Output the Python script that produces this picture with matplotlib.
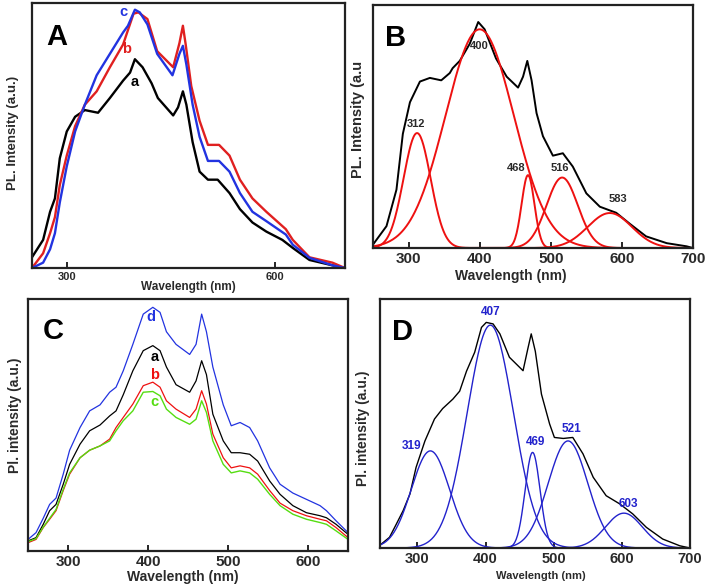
import numpy as np
import matplotlib
matplotlib.use("Agg")
import matplotlib.pyplot as plt

plt.rcParams["font.family"] = ["Liberation Sans", "DejaVu Sans"]
plt.rcParams["font.weight"] = "bold"

TXT = "#2a2a2a"

# ---- panel A: PL spectra a, b, c ----
a_wl_black = [250, 266, 276, 283, 290, 300, 312, 326, 345, 362, 381, 391, 398, 409, 422, 431, 453,
              460, 467, 472, 481, 491, 503, 517, 534, 549, 567, 587, 610, 625, 649, 682, 700]
a_black = [0.04, 0.105, 0.21, 0.26, 0.41, 0.51, 0.565, 0.59, 0.58, 0.635, 0.70, 0.73, 0.78, 0.75, 0.69,
           0.635, 0.57, 0.60, 0.66, 0.61, 0.47, 0.36, 0.33, 0.33, 0.28, 0.22, 0.17, 0.136, 0.105, 0.075,
           0.03, 0.01, 0.0]
a_wl_red = [250, 266, 276, 283, 290, 300, 312, 326, 343, 362, 381, 396, 403, 416, 430, 453, 462, 467,
            471, 479, 491, 503, 519, 534, 549, 567, 587, 615, 625, 649, 682, 700]
a_red = [0.0, 0.055, 0.13, 0.19, 0.31, 0.42, 0.53, 0.61, 0.66, 0.75, 0.835, 0.95, 0.955, 0.93, 0.81,
         0.75, 0.84, 0.905, 0.835, 0.68, 0.55, 0.46, 0.46, 0.42, 0.33, 0.26, 0.21, 0.145, 0.105, 0.04,
         0.02, 0.0]
a_wl_blue = [250, 266, 276, 283, 290, 300, 312, 326, 343, 362, 381, 388, 398, 405, 416, 430, 452, 462,
             467, 472, 481, 491, 503, 519, 534, 549, 567, 587, 615, 625, 649, 682, 700]
a_blue = [0.0, 0.02, 0.07, 0.13, 0.245, 0.38, 0.51, 0.61, 0.72, 0.80, 0.88, 0.905, 0.965, 0.955, 0.91,
          0.80, 0.72, 0.80, 0.83, 0.76, 0.61, 0.49, 0.40, 0.40, 0.36, 0.28, 0.21, 0.175, 0.125, 0.087,
          0.038, 0.01, 0.0]

# ---- panel B: spectrum and gaussian components ----
b_wl = [250, 269, 283, 292, 302, 316, 330, 346, 358, 362, 372, 386, 398, 407, 423, 438, 454, 461, 467,
        473, 480, 489, 503, 517, 531, 550, 569, 592, 611, 634, 663, 691, 700]
b_black = [0.014, 0.09, 0.24, 0.47, 0.60, 0.685, 0.70, 0.69, 0.72, 0.74, 0.77, 0.84, 0.93, 0.90, 0.78,
           0.705, 0.66, 0.705, 0.77, 0.69, 0.555, 0.46, 0.38, 0.39, 0.335, 0.225, 0.17, 0.145, 0.10,
           0.048, 0.02, 0.007, 0.0]
b_centers = [312, 400, 468, 516, 583]
b_heights = [0.473, 0.90, 0.30, 0.29, 0.144]
b_sigmas = [19, 48, 9, 22, 31]

# ---- panel C: spectra a-d ----
c_wl = [250, 260, 269, 277, 285, 294, 302, 315, 327, 340, 352, 360, 369, 381, 394, 406, 415, 423, 435,
        452, 460, 467, 473, 481, 494, 504, 515, 527, 537, 552, 565, 581, 598, 615, 623, 635, 650]
c_d = [0.046, 0.073, 0.13, 0.185, 0.21, 0.305, 0.40, 0.49, 0.556, 0.58, 0.63, 0.65, 0.715, 0.82, 0.94,
       0.967, 0.947, 0.87, 0.82, 0.78, 0.82, 0.94, 0.87, 0.73, 0.58, 0.497, 0.51, 0.49, 0.437, 0.33,
       0.265, 0.23, 0.205, 0.18, 0.16, 0.12, 0.073]
c_a = [0.04, 0.053, 0.106, 0.16, 0.185, 0.265, 0.344, 0.424, 0.477, 0.50, 0.536, 0.556, 0.62, 0.715,
       0.795, 0.815, 0.795, 0.73, 0.66, 0.63, 0.675, 0.755, 0.70, 0.543, 0.437, 0.39, 0.39, 0.384, 0.357,
       0.278, 0.225, 0.18, 0.152, 0.14, 0.132, 0.106, 0.066]
c_b = [0.033, 0.046, 0.093, 0.126, 0.16, 0.24, 0.305, 0.37, 0.40, 0.417, 0.444, 0.49, 0.53, 0.583,
       0.656, 0.67, 0.65, 0.596, 0.563, 0.53, 0.563, 0.636, 0.583, 0.464, 0.37, 0.33, 0.338, 0.33, 0.305,
       0.24, 0.19, 0.16, 0.14, 0.126, 0.12, 0.093, 0.053]
c_c = [0.037, 0.049, 0.095, 0.13, 0.165, 0.245, 0.31, 0.37, 0.40, 0.417, 0.437, 0.477, 0.517, 0.556,
       0.63, 0.633, 0.616, 0.563, 0.53, 0.503, 0.523, 0.596, 0.55, 0.437, 0.344, 0.31, 0.318, 0.31, 0.285,
       0.225, 0.18, 0.146, 0.126, 0.113, 0.106, 0.08, 0.046]

# ---- panel D: spectrum and gaussian components ----
d_wl = [247, 259, 269, 279, 289, 298, 311, 325, 337, 352, 362, 372, 384, 394, 401, 411, 421, 435, 455,
        462, 467, 473, 482, 494, 501, 514, 528, 543, 558, 577, 597, 616, 636, 660, 685, 700]
d_black = [0.016, 0.043, 0.096, 0.15, 0.217, 0.324, 0.43, 0.518, 0.56, 0.598, 0.63, 0.71, 0.786, 0.886,
           0.906, 0.90, 0.86, 0.766, 0.712, 0.80, 0.86, 0.79, 0.618, 0.498, 0.444, 0.44, 0.444, 0.378,
           0.284, 0.21, 0.177, 0.137, 0.083, 0.036, 0.009, 0.0]
d_centers = [319, 407, 469, 521, 603]
d_heights = [0.39, 0.895, 0.384, 0.43, 0.14]
d_sigmas = [28, 34, 11, 29, 27]


def gauss(x, c, h, s):
    return h * np.exp(-(x - c) ** 2 / (2.0 * s ** 2))


def style(ax, xlim, ticks, tick_fs, spine_w=1.6):
    ax.set_xlim(*xlim)
    ax.set_ylim(0, 1.0)
    ax.set_xticks(ticks)
    ax.set_yticks([])
    ax.tick_params(axis="x", direction="in", length=4, width=1.2, labelsize=tick_fs,
                   labelcolor=TXT, pad=3)
    for lab in ax.get_xticklabels():
        lab.set_fontweight("bold")
    for sp in ax.spines.values():
        sp.set_linewidth(spine_w)
        sp.set_color("#222222")


def labels(ax, xl, xfs, xpos, yl, yfs, ypos):
    ax.set_xlabel(xl, fontsize=xfs, fontweight="bold", color=TXT, va="center")
    ax.xaxis.set_label_coords(*xpos)
    ax.set_ylabel(yl, fontsize=yfs, fontweight="bold", color=TXT, va="center")
    ax.yaxis.set_label_coords(*ypos)


def letter(ax, s, x, y):
    ax.text(x, y, s, transform=ax.transAxes, fontsize=21, fontweight="bold", color="black",
            va="center", ha="center")


fig = plt.figure(figsize=(7.06, 5.88), dpi=100)

# A
ax = fig.add_axes([0.0453, 0.5442, 0.4433, 0.4507])
ax.plot(a_wl_black, a_black, color="black", lw=1.7)
ax.plot(a_wl_red, a_red, color="#e02020", lw=1.7)
ax.plot(a_wl_blue, a_blue, color="#2233e0", lw=1.7)
style(ax, (250, 700), [300, 600], 8)
ax.set_ylim(0, 0.99)
letter(ax, "A", 0.08, 0.87)
ax.text(381, 0.955, "c", color="#2233e0", fontsize=10.5, fontweight="bold", ha="center", va="center")
ax.text(386, 0.82, "b", color="#e02020", fontsize=10.5, fontweight="bold", ha="center", va="center")
ax.text(398, 0.695, "a", color="black", fontsize=10.5, fontweight="bold", ha="center", va="center")
labels(ax, "Wavelength (nm)", 8.5, (0.50, -0.072), "PL. Intensity (a.u.)", 9.5, (-0.06, 0.51))

# B
ax = fig.add_axes([0.5283, 0.5782, 0.4533, 0.4133])
xs = np.linspace(250, 700, 451)
ax.plot(b_wl, b_black, color="black", lw=1.4)
for c, h, s in zip(b_centers, b_heights, b_sigmas):
    ax.plot(xs, gauss(xs, c, h, s), color="#ee1111", lw=1.4)
style(ax, (250, 700), [300, 400, 500, 600, 700], 11)
letter(ax, "B", 0.072, 0.864)
b_lbl_xy = [(310, 0.51), (400, 0.83), (452, 0.33), (513, 0.33), (594, 0.20)]
for (lx, ly), c in zip(b_lbl_xy, b_centers):
    ax.text(lx, ly, str(c), fontsize=8, fontweight="bold", color=TXT, ha="center", va="center")
labels(ax, "Wavelength (nm)", 10, (0.43, -0.115), "PL. Intensity (a.u", 10.5, (-0.047, 0.53))

# C
ax = fig.add_axes([0.0397, 0.0629, 0.4533, 0.4286])
ax.plot(c_wl, c_d, color="#2233e0", lw=0.9)
ax.plot(c_wl, c_a, color="black", lw=0.9)
ax.plot(c_wl, c_b, color="#ee1111", lw=0.9)
ax.plot(c_wl, c_c, color="#55dd11", lw=1.0)
style(ax, (250, 650), [300, 400, 500, 600], 11)
letter(ax, "C", 0.078, 0.873)
ax.text(404, 0.927, "d", color="#2233e0", fontsize=10.5, fontweight="bold", ha="center", va="center")
ax.text(408, 0.768, "a", color="black", fontsize=10.5, fontweight="bold", ha="center", va="center")
ax.text(408, 0.70, "b", color="#ee1111", fontsize=10.5, fontweight="bold", ha="center", va="center")
ax.text(408, 0.59, "c", color="#55dd11", fontsize=10.5, fontweight="bold", ha="center", va="center")
labels(ax, "Wavelength (nm)", 10, (0.485, -0.103), "Pl. intensity (a.u.)", 10, (-0.04, 0.54))

# D
ax = fig.add_axes([0.5382, 0.068, 0.4391, 0.4235])
xs = np.linspace(245, 700, 456)
ax.plot(d_wl, d_black, color="black", lw=1.0)
for c, h, s in zip(d_centers, d_heights, d_sigmas):
    ax.plot(xs, gauss(xs, c, h, s), color="#2222cc", lw=1.0)
style(ax, (245, 700), [300, 400, 500, 600, 700], 10.5)
letter(ax, "D", 0.074, 0.867)
d_lbl_xy = [(291, 0.41), (408, 0.946), (474, 0.424), (526, 0.478), (609, 0.177)]
for (lx, ly), c in zip(d_lbl_xy, d_centers):
    ax.text(lx, ly, str(c), fontsize=8.5, fontweight="bold", color="#2222cc", ha="center", va="center")
labels(ax, "Wavelength (nm)", 8, (0.518, -0.112), "Pl. intensity (a.u.)", 10, (-0.055, 0.48))

fig.savefig("out.png", dpi=100)
